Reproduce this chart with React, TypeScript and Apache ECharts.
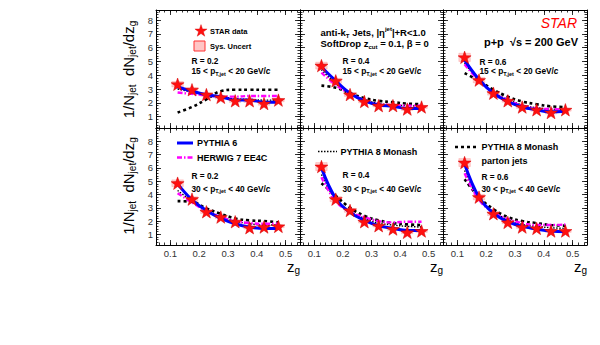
import React, { useEffect, useRef } from 'react';
import * as echarts from 'echarts';

// ---------- data ----------
const zg = [0.125, 0.175, 0.225, 0.275, 0.325, 0.375, 0.425, 0.475];

// Panel A: R=0.2, 15-20 GeV
const starA = [3.35, 2.95, 2.6, 2.4, 2.15, 2.15, 1.95, 2.2];
const sysA = [0.2, 0.15, 0.12, 0.12, 0.12, 0.12, 0.12, 0.12];
const py6A = [3.15, 2.85, 2.6, 2.45, 2.2, 2.2, 2.05, 2.05];
const herA = [2.75, 2.65, 2.55, 2.45, 2.45, 2.5, 2.5, 2.5];
const py8A = [3.0, 2.8, 2.6, 2.45, 2.3, 2.25, 2.2, 2.2];
const parA = [1.3, 1.7, 2.25, 2.85, 2.95, 2.95, 2.95, 2.95];

// Panel B: R=0.4, 15-20 GeV
const starB = [4.7, 3.6, 2.6, 2.1, 1.8, 1.8, 1.55, 1.7];
const sysB = [0.25, 0.18, 0.13, 0.1, 0.1, 0.1, 0.1, 0.1];
const py6B = [4.6, 3.6, 2.7, 2.15, 1.85, 1.75, 1.6, 1.6];
const herB = [4.2, 3.3, 2.65, 2.2, 1.9, 1.85, 1.8, 1.8];
const py8B = [4.4, 3.4, 2.7, 2.25, 1.95, 1.85, 1.8, 1.75];
const parB = [3.25, 3.1, 2.7, 2.35, 2.15, 2.05, 1.95, 1.9];

// Panel C: R=0.6, 15-20 GeV
const starC = [5.3, 3.65, 2.7, 2.15, 1.7, 1.5, 1.3, 1.5];
const sysC = [0.3, 0.2, 0.14, 0.1, 0.1, 0.1, 0.1, 0.1];
const py6C = [5.1, 3.7, 2.7, 2.1, 1.7, 1.5, 1.35, 1.4];
const herC = [4.8, 3.6, 2.75, 2.2, 1.8, 1.6, 1.55, 1.5];
const py8C = [4.9, 3.6, 2.75, 2.25, 1.85, 1.65, 1.55, 1.5];
const parC = [4.15, 3.6, 2.95, 2.45, 2.1, 1.9, 1.75, 1.7];

// Panel D: R=0.2, 30-40 GeV
const starD = [4.85, 3.65, 2.7, 2.3, 1.95, 1.5, 1.55, 1.6];
const sysD = [0.25, 0.18, 0.13, 0.1, 0.1, 0.1, 0.1, 0.1];
const py6D = [4.8, 3.6, 2.8, 2.2, 1.8, 1.55, 1.45, 1.45];
const herD = [4.1, 3.4, 2.75, 2.3, 2.0, 1.85, 1.8, 1.8];
const py8D = [4.3, 3.5, 2.8, 2.35, 2.0, 1.8, 1.7, 1.7];
const parD = [3.5, 3.45, 2.95, 2.55, 2.2, 2.05, 2.0, 1.9];

// Panel E: R=0.4, 30-40 GeV
const starE = [6.1, 3.65, 2.8, 1.95, 1.65, 1.4, 1.15, 1.25];
const sysE = [0.3, 0.2, 0.14, 0.1, 0.1, 0.1, 0.1, 0.1];
const py6E = [6.0, 3.7, 2.65, 2.05, 1.65, 1.45, 1.3, 1.3];
const herE = [5.3, 3.5, 2.7, 2.3, 2.0, 1.9, 1.95, 1.95];
const py8E = [5.5, 3.6, 2.75, 2.2, 1.85, 1.7, 1.6, 1.55];
const parE = [4.85, 3.9, 3.0, 2.4, 2.05, 1.85, 1.75, 1.7];

// Panel F: R=0.6, 30-40 GeV
const starF = [6.4, 3.8, 2.55, 1.9, 1.55, 1.45, 1.25, 1.25];
const sysF = [0.3, 0.2, 0.14, 0.1, 0.1, 0.1, 0.1, 0.1];
const py6F = [6.3, 3.8, 2.6, 1.95, 1.6, 1.4, 1.25, 1.2];
const herF = [5.6, 3.6, 2.65, 2.15, 1.85, 1.7, 1.7, 1.75];
const py8F = [5.8, 3.7, 2.7, 2.1, 1.75, 1.6, 1.5, 1.45];
const parF = [5.15, 3.8, 2.9, 2.3, 2.0, 1.85, 1.7, 1.65];

const xTickLabels = [0.1, 0.2, 0.3, 0.4, 0.5];
const yTickLabels = [1, 2, 3, 4, 5, 6, 7, 8];

const panels = [
  { star: starA, sys: sysA, py6: py6A, her: herA, py8: py8A, par: parA },
  { star: starB, sys: sysB, py6: py6B, her: herB, py8: py8B, par: parB },
  { star: starC, sys: sysC, py6: py6C, her: herC, py8: py8C, par: parC },
  { star: starD, sys: sysD, py6: py6D, her: herD, py8: py8D, par: parD },
  { star: starE, sys: sysE, py6: py6E, her: herE, py8: py8E, par: parE },
  { star: starF, sys: sysF, py6: py6F, her: herF, py8: py8F, par: parF },
];

// ---------- layout / style ----------
const FONT = "'Liberation Sans', Arial, Helvetica, sans-serif";
const STAR_PATH =
  'M0,-10L2.35,-3.24L9.51,-3.09L3.8,1.24L5.88,8.09L0,4L-5.88,8.09L-3.8,1.24L-9.51,-3.09L-2.35,-3.24Z';

try {
  echarts.graphic.registerShape('starShape', echarts.graphic.extendPath(STAR_PATH, {}));
} catch (e) {
  /* ignore */
}

const COLS = [
  { left: 156, width: 144 },
  { left: 300, width: 143 },
  { left: 443, width: 144 },
];
const ROWS = [
  { top: 10, height: 118, min: 0.18, max: 8.73 },
  { top: 128, height: 117, min: 0.2, max: 9.0 },
];
const X_MIN = 0.05;
const X_MAX = 0.55;

const xMinor: number[] = [];
for (let k = 3; k <= 27; k++) xMinor.push(Math.round(k * 2) / 100);
function yMinorFor(min: number, max: number) {
  const arr: number[] = [];
  for (let k = 1; k <= 45; k++) {
    const v = Math.round(k * 2) / 10;
    if (v >= min && v <= max) arr.push(v);
  }
  return arr;
}

function mkAxis(
  gridIndex: number,
  position: string,
  min: number,
  max: number,
  ticks: number[],
  len: number,
  labelVals: number[] | null,
  isX: boolean,
  showLine: boolean
) {
  return {
    type: 'value',
    gridIndex,
    position,
    min,
    max,
    axisLine: { show: showLine, onZero: false, lineStyle: { color: '#000', width: 1 } },
    axisTick: {
      show: true,
      inside: true,
      length: len,
      customValues: ticks,
      lineStyle: { color: '#000', width: 0.8 },
    },
    minorTick: { show: false },
    splitLine: { show: false },
    axisLabel: labelVals
      ? {
          show: true,
          customValues: labelVals,
          fontFamily: FONT,
          fontSize: 9.5,
          color: '#333',
          margin: 3,
          formatter: (v: number) => (isX ? v.toFixed(1) : String(Math.round(v))),
        }
      : { show: false },
  };
}

function t(x: number, y: number, text: string, size: number, extra: any = {}) {
  const base = { fontFamily: FONT, fontSize: size, fontWeight: 'bold', fill: '#000' };
  return {
    type: 'text',
    x,
    y,
    z: 100,
    style: {
      text,
      ...base,
      align: extra.align || 'left',
      verticalAlign: 'middle',
      ...(extra.style || {}),
      rich: extra.rich,
    },
  };
}

function ptText(x: number, y: number, lo: string, hi: string) {
  const sz = 8.3;
  return t(x, y, `{n|${lo} < p}{s|T,jet}{n| < ${hi} GeV/}{i|c}`, sz, {
    rich: {
      n: { fontFamily: FONT, fontSize: sz, fontWeight: 'bold', lineHeight: 11, fill: '#000' },
      s: { fontFamily: FONT, fontSize: 5.5, fontWeight: 'bold', lineHeight: 5, verticalAlign: 'bottom', fill: '#000' },
      i: { fontFamily: FONT, fontSize: sz, fontWeight: 'bold', fontStyle: 'italic', lineHeight: 11, fill: '#000' },
    },
  });
}

function yTitle(x: number, y: number) {
  return {
    type: 'text',
    x,
    y,
    rotation: Math.PI / 2,
    z: 100,
    style: {
      text: '{b|1/N}{s|jet}{b|  dN}{s|jet}{b|/dz}{s|g}',
      align: 'center',
      verticalAlign: 'middle',
      rich: {
        b: { fontFamily: FONT, fontSize: 15, lineHeight: 18, fill: '#000' },
        s: { fontFamily: FONT, fontSize: 10, lineHeight: 8, verticalAlign: 'bottom', fill: '#000' },
      },
    },
  };
}

function zgTitle(xRight: number, y: number) {
  return {
    type: 'text',
    x: xRight,
    y,
    z: 100,
    style: {
      text: '{b|z}{s|g}',
      align: 'right',
      verticalAlign: 'middle',
      rich: {
        b: { fontFamily: FONT, fontSize: 15, lineHeight: 18, fill: '#000' },
        s: { fontFamily: FONT, fontSize: 10, lineHeight: 8, verticalAlign: 'bottom', fill: '#000' },
      },
    },
  };
}

function legLine(x1: number, x2: number, y: number, color: string, width: number, dash: number[] | null) {
  return {
    type: 'line',
    z: 100,
    shape: { x1, y1: y, x2, y2: y },
    style: { stroke: color, lineWidth: width, lineDash: dash || undefined },
  };
}

function buildOption() {
  const grid: any[] = [];
  const xAxis: any[] = [];
  const yAxis: any[] = [];
  const series: any[] = [];

  panels.forEach((p, i) => {
    const r = Math.floor(i / 3);
    const c = i % 3;
    const R = ROWS[r];
    const C = COLS[c];
    grid.push({
      left: C.left,
      top: R.top,
      width: C.width,
      height: R.height,
      containLabel: false,
      outerBoundsMode: 'none',
    });
    const yMinor = yMinorFor(R.min, R.max);
    xAxis.push(mkAxis(i, 'bottom', X_MIN, X_MAX, xTickLabels, 5, r === 1 ? xTickLabels : null, true, true));
    xAxis.push(mkAxis(i, 'bottom', X_MIN, X_MAX, xMinor, 2.5, null, true, false));
    xAxis.push(mkAxis(i, 'top', X_MIN, X_MAX, xTickLabels, 5, null, true, true));
    xAxis.push(mkAxis(i, 'top', X_MIN, X_MAX, xMinor, 2.5, null, true, false));
    yAxis.push(mkAxis(i, 'left', R.min, R.max, yTickLabels, 5, c === 0 ? yTickLabels : null, false, true));
    yAxis.push(mkAxis(i, 'left', R.min, R.max, yMinor, 2.5, null, false, false));
    yAxis.push(mkAxis(i, 'right', R.min, R.max, yTickLabels, 5, null, false, true));
    yAxis.push(mkAxis(i, 'right', R.min, R.max, yMinor, 2.5, null, false, false));

    const xi = i * 4;
    const yi = i * 4;

    series.push({
      type: 'custom',
      coordinateSystem: 'cartesian2d',
      xAxisIndex: xi,
      yAxisIndex: yi,
      silent: true,
      data: zg.map((x, j) => [x, p.star[j], p.sys[j]]),
      renderItem: (_params: any, api: any) => {
        const x = api.value(0);
        const y = api.value(1);
        const e = api.value(2);
        const p1 = api.coord([x - 0.02, y + e]);
        const p2 = api.coord([x + 0.02, y - e]);
        return {
          type: 'rect',
          shape: { x: p1[0], y: p1[1], width: p2[0] - p1[0], height: p2[1] - p1[1] },
          style: { fill: 'rgba(255,120,120,0.35)', stroke: 'rgba(255,90,90,0.45)', lineWidth: 0.5 },
        };
      },
    });

    const line = (arr: number[], color: string, width: number, dash: any) => ({
      type: 'line',
      xAxisIndex: xi,
      yAxisIndex: yi,
      data: zg.map((x, j) => [x, arr[j]]),
      showSymbol: false,
      symbol: 'none',
      smooth: 0.4,
      silent: true,
      lineStyle: { color, width, type: dash },
    });

    series.push(line(p.par, '#000', 2.6, [3, 3]));
    series.push(line(p.py8, '#000', 1.4, [1.5, 1.5]));
    series.push(line(p.her, '#ff00ff', 2.4, [5, 2, 1.5, 2]));
    series.push(line(p.py6, '#0000ff', 3, 'solid'));

    series.push({
      type: 'scatter',
      xAxisIndex: xi,
      yAxisIndex: yi,
      data: zg.map((x, j) => [x, p.star[j]]),
      symbol: 'path://' + STAR_PATH,
      symbolSize: [13, 12.5],
      silent: true,
      itemStyle: { color: '#ff1010', borderColor: '#d00000', borderWidth: 0.5, opacity: 1 },
      z: 5,
    });
  });

  const graphic: any[] = [
    yTitle(128, 69.5),
    yTitle(128, 186),
    zgTitle(300, 266),
    zgTitle(443, 266),
    zgTitle(587, 266),

    // top-left legend
    {
      type: 'starShape',
      x: 201,
      y: 31,
      scaleX: 0.64,
      scaleY: 0.64,
      z: 100,
      style: { fill: '#ff1010', stroke: '#d00000', lineWidth: 0.6 },
    },
    t(210, 31, 'STAR data', 7.5),
    {
      type: 'rect',
      z: 100,
      shape: { x: 194, y: 41, width: 11, height: 10 },
      style: { fill: 'rgba(255,150,150,0.55)', stroke: '#ff3030', lineWidth: 1 },
    },
    t(210, 46, 'Sys. Uncert', 7.5),
    t(191.5, 61, 'R = 0.2', 8.3),
    ptText(191.5, 71, '15', '20'),

    // top-middle
    t(320.5, 32, '{n|anti-k}{s|T}{n| Jets, |η}{u|jet}{n||+R<1.0}', 9.5, {
      rich: {
        n: { fontFamily: FONT, fontSize: 9.5, fontWeight: 'bold', lineHeight: 13, fill: '#000' },
        s: { fontFamily: FONT, fontSize: 6, fontWeight: 'bold', lineHeight: 6, verticalAlign: 'bottom', fill: '#000' },
        u: { fontFamily: FONT, fontSize: 6, fontWeight: 'bold', lineHeight: 6, verticalAlign: 'top', fill: '#000' },
      },
    }),
    t(320.5, 43.5, '{n|SoftDrop z}{s|cut}{n| = 0.1, β = 0}', 9.5, {
      rich: {
        n: { fontFamily: FONT, fontSize: 9.5, fontWeight: 'bold', lineHeight: 13, fill: '#000' },
        s: { fontFamily: FONT, fontSize: 6, fontWeight: 'bold', lineHeight: 6, verticalAlign: 'bottom', fill: '#000' },
      },
    }),
    t(342.5, 61, 'R = 0.4', 8.3),
    ptText(342.5, 71, '15', '20'),

    // top-right
    t(577, 22.5, 'STAR', 14, {
      align: 'right',
      style: { fill: '#ff0000', fontStyle: 'italic', fontWeight: 'normal' },
    }),
    t(578, 41.5, 'p+p  √s = 200 GeV', 11, { align: 'right' }),
    t(479.5, 61.5, 'R = 0.6', 8.3),
    ptText(479.5, 71, '15', '20'),

    // bottom-left
    legLine(177, 193, 143, '#0000ff', 3, null),
    t(197, 143, 'PYTHIA 6', 9),
    legLine(177, 193, 157.5, '#ff00ff', 2.4, [5, 2, 1.5, 2]),
    t(197, 157.5, 'HERWIG 7 EE4C', 9),
    t(191.5, 176, 'R = 0.2', 8.3),
    ptText(191.5, 188.5, '30', '40'),

    // bottom-middle
    legLine(318, 337, 151.5, '#000', 1.4, [1.5, 1.5]),
    t(340.5, 151.5, 'PYTHIA 8 Monash', 9),
    t(342.5, 175, 'R = 0.4', 8.3),
    ptText(342.5, 188.5, '30', '40'),

    // bottom-right
    legLine(455, 478, 147, '#000', 2.6, [3, 3]),
    t(481.5, 147, 'PYTHIA 8 Monash', 9),
    t(481.5, 160.5, 'parton jets', 9),
    t(481.5, 176.5, 'R = 0.6', 8.3),
    ptText(481.5, 188.5, '30', '40'),
  ];

  return {
    animation: false,
    backgroundColor: '#fff',
    grid,
    xAxis,
    yAxis,
    series,
    graphic,
  };
}

export default function App() {
  const ref = useRef<HTMLDivElement>(null);
  useEffect(() => {
    if (!ref.current) return;
    const chart = echarts.init(ref.current, null, { renderer: 'svg' });
    chart.setOption(buildOption() as any);
    return () => chart.dispose();
  }, []);
  return (
    <div
      ref={ref}
      style={{ position: 'absolute', left: 0, top: 0, width: 600, height: 345, background: '#fff' }}
    />
  );
}
